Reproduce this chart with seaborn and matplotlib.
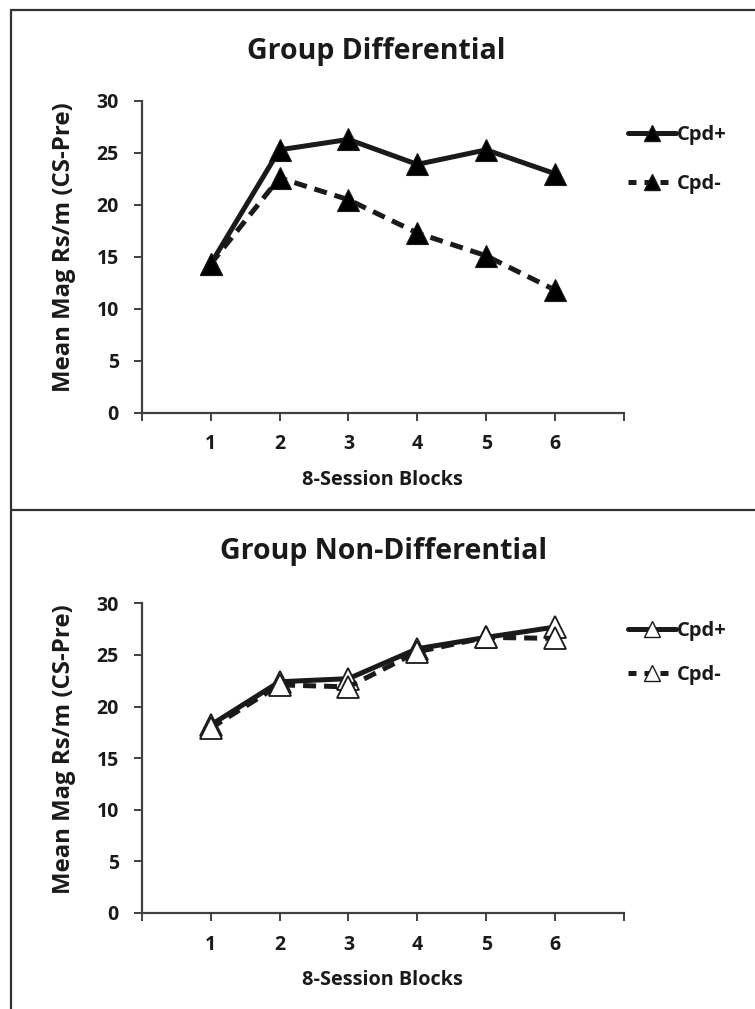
import matplotlib
matplotlib.use("Agg")
import matplotlib.pyplot as plt
from matplotlib.lines import Line2D
import seaborn as sns
import pandas as pd

# ---- data ----
blocks = [1, 2, 3, 4, 5, 6]
xtick_labels = ["", "1", "2", "3", "4", "5", "6", ""]
diff_cpd_plus = [14.3, 25.3, 26.3, 23.9, 25.3, 23.0]
diff_cpd_minus = [14.3, 22.6, 20.5, 17.3, 15.1, 11.8]
nondiff_cpd_plus = [18.2, 22.4, 22.7, 25.6, 26.7, 27.7]
nondiff_cpd_minus = [17.9, 22.1, 21.9, 25.3, 26.7, 26.6]
series_names = ["Cpd+", "Cpd-"]
titles = ["Group Differential", "Group Non-Differential"]
ylabel = "Mean Mag Rs/m (CS-Pre)"
xlabel = "8-Session Blocks"
yticks = [0, 5, 10, 15, 20, 25, 30]

sns.set_theme(style="white")
plt.rcParams["font.family"] = ["Open Sans", "DejaVu Sans"]
plt.rcParams["font.weight"] = "bold"

W, H = 755, 1009
fig = plt.figure(figsize=(W / 100, H / 100), dpi=100)

def fx(px):
    return px / W

def fy(py):
    return 1 - py / H

axL = 141.7
axR = 624.0
panels = [
    dict(top=101.0, bot=412.7, plus=diff_cpd_plus, minus=diff_cpd_minus,
         face="black", title_x=376, title_y=51, leg_y=(133, 182)),
    dict(top=603.3, bot=913.0, plus=nondiff_cpd_plus, minus=nondiff_cpd_minus,
         face="white", title_x=384, title_y=551, leg_y=(629, 673)),
]

ink = "#1a1a1a"
spine_c = "#404040"

for i, p in enumerate(panels):
    ax = fig.add_axes([fx(axL), fy(p["bot"]), fx(axR - axL), (p["bot"] - p["top"]) / H])
    df = pd.DataFrame({"block": blocks * 2,
                       "value": p["plus"] + p["minus"],
                       "series": [series_names[0]] * 6 + [series_names[1]] * 6})
    styles = {"Cpd+": dict(linestyle="-"), "Cpd-": dict(linestyle=(0, (2.6, 1.6)))}
    for name in series_names:
        sub = df[df["series"] == name]
        sns.lineplot(data=sub, x="block", y="value", ax=ax, color=ink, lw=3.6,
                     marker="^", markersize=16, markerfacecolor=p["face"],
                     markeredgecolor=ink, markeredgewidth=1.3 if p["face"] == "white" else 0.8,
                     legend=False, **styles[name])
    ax.set_xlim(0, 7)
    ax.set_ylim(0, 30)
    ax.set_xticks(range(8))
    ax.set_xticklabels(xtick_labels)
    ax.set_yticks(yticks)
    ax.set_yticklabels([str(v) for v in yticks])
    for s in ["top", "right"]:
        ax.spines[s].set_visible(False)
    for s in ["left", "bottom"]:
        ax.spines[s].set_color(spine_c)
        ax.spines[s].set_linewidth(1.6)
    ax.tick_params(axis="both", which="major", direction="out", length=5.5, width=1.4,
                   color=spine_c, labelsize=14, labelcolor=ink)
    ax.tick_params(axis="y", pad=11)
    ax.tick_params(axis="x", pad=10)
    ax.tick_params(left=True, bottom=True)
    for lab in ax.get_xticklabels() + ax.get_yticklabels():
        lab.set_fontweight("bold")
    ax.set_xlabel(xlabel, fontsize=14.3, fontweight="bold", color=ink)
    ax.set_ylabel(ylabel, fontsize=17.3, fontweight="bold", color=ink)
    ax.yaxis.set_label_coords(-0.137, 0.53)
    ax.xaxis.set_label_coords(0.5, -0.183)
    ax.grid(False)

    fig.text(fx(p["title_x"]), fy(p["title_y"]), titles[i], ha="center", va="center",
             fontsize=20.5, fontweight="bold", color=ink)

    handles = [
        Line2D([0], [0], color=ink, lw=3.6, linestyle="-", marker="^", markersize=11,
               markerfacecolor=p["face"], markeredgecolor=ink, markeredgewidth=1.0),
        Line2D([0], [0], color=ink, lw=3.6, linestyle=(0, (1.6, 1.6)), marker="^", markersize=11,
               markerfacecolor=p["face"], markeredgecolor=ink, markeredgewidth=1.0),
    ]
    gap = p["leg_y"][1] - p["leg_y"][0]
    fs = 14.5
    fs_px = fs * 100 / 72
    leg = fig.legend(handles, series_names, loc="upper left",
                     bbox_to_anchor=(fx(628), fy(p["leg_y"][0] - 7.7)),
                     bbox_transform=fig.transFigure, frameon=False, borderpad=0,
                     borderaxespad=0, handlelength=2.4, handletextpad=0.05,
                     labelspacing=(gap - 20.4) / fs_px, prop=dict(size=fs, weight="bold"))
    for t in leg.get_texts():
        t.set_color(ink)

# panel borders
border_c = "#333333"
lw = 1.6
fig.add_artist(Line2D([fx(11), 1], [fy(10), fy(10)], color=border_c, lw=lw, transform=fig.transFigure))
fig.add_artist(Line2D([fx(11), fx(11)], [fy(10), 0], color=border_c, lw=lw, transform=fig.transFigure))
fig.add_artist(Line2D([fx(11), 1], [fy(510), fy(510)], color=border_c, lw=lw, transform=fig.transFigure))

fig.savefig("out.png", dpi=100, facecolor="white")
